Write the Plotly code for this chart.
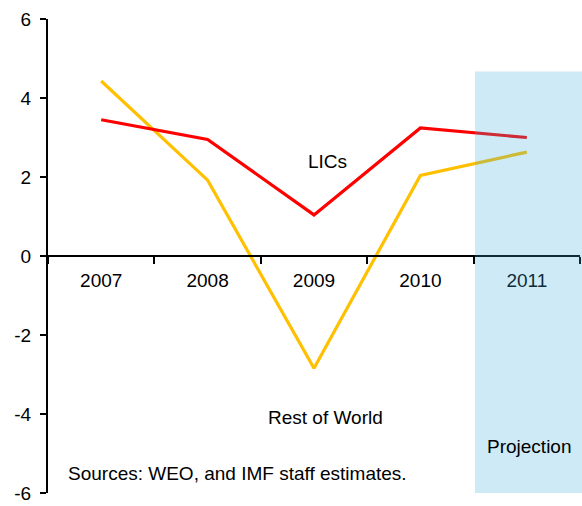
import plotly.graph_objects as go

years = ["2007", "2008", "2009", "2010", "2011"]
lics = [3.45, 2.95, 1.04, 3.24, 3.0]
rest_of_world = [4.43, 1.92, -2.84, 2.04, 2.63]
y_ticks = [-6, -4, -2, 0, 2, 4, 6]
y_tick_labels = ["-6", "-4", "-2", "0", "2", "4", "6"]

FONT = "Liberation Sans, Arial, sans-serif"

fig = go.Figure()
fig.add_trace(go.Scatter(x=years, y=rest_of_world, mode="lines",
                         line=dict(color="#ffc000", width=3.2), name="Rest of World"))
fig.add_trace(go.Scatter(x=years, y=lics, mode="lines",
                         line=dict(color="#ff0000", width=3.2), name="LICs"))

# projection shading (translucent, drawn above)
fig.add_shape(type="rect", xref="paper", yref="y", x0=0.8026, x1=1.0038, y0=-6, y1=4.67,
              fillcolor="rgba(55,171,219,0.25)", line=dict(width=0), layer="above")

fig.update_layout(
    width=582, height=506,
    margin=dict(l=48, r=2, t=19, b=5),
    paper_bgcolor="white", plot_bgcolor="white",
    showlegend=False,
    font=dict(family=FONT, size=19, color="black"),
    xaxis=dict(type="category", range=[-0.5, 4.5], anchor="free", position=0.5,
               showline=True, linecolor="black", linewidth=2,
               ticks="outside", tickson="boundaries", ticklen=7, tickwidth=2, tickcolor="black",
               ticklabelstandoff=7,
               showgrid=False, zeroline=False, tickfont=dict(size=19)),
    yaxis=dict(range=[-6, 6], tickvals=y_ticks, ticktext=y_tick_labels,
               showline=True, linecolor="black", linewidth=2,
               ticks="outside", ticklen=6, tickwidth=2, tickcolor="black",
               ticklabelstandoff=5, ticklabeloverflow="allow",
               showgrid=False, zeroline=False, tickfont=dict(size=19)),
    annotations=[
        dict(text="(Real per capita growth; percent, median)", xref="paper", yref="y",
             x=0.49, y=6.03, xanchor="center", yanchor="middle", showarrow=False),
        dict(text="LICs", xref="x", yref="y", x=2.13, y=2.39, showarrow=False,
             xanchor="center", yanchor="middle"),
        dict(text="Rest of World", xref="x", yref="y", x=2.11, y=-4.1, showarrow=False,
             xanchor="center", yanchor="middle"),
        dict(text="Projection", xref="x", yref="y", x=4.03, y=-4.82, showarrow=False,
             xanchor="center", yanchor="middle"),
        dict(text="Sources: WEO, and IMF staff estimates.", xref="paper", yref="y",
             x=0.034, y=-5.5, showarrow=False, xanchor="left", yanchor="middle"),
    ],
)

fig.write_html(
    "out.html",
    config={"displayModeBar": False},
    post_script="document.body.style.margin='0';document.documentElement.style.overflow='hidden';",
)
